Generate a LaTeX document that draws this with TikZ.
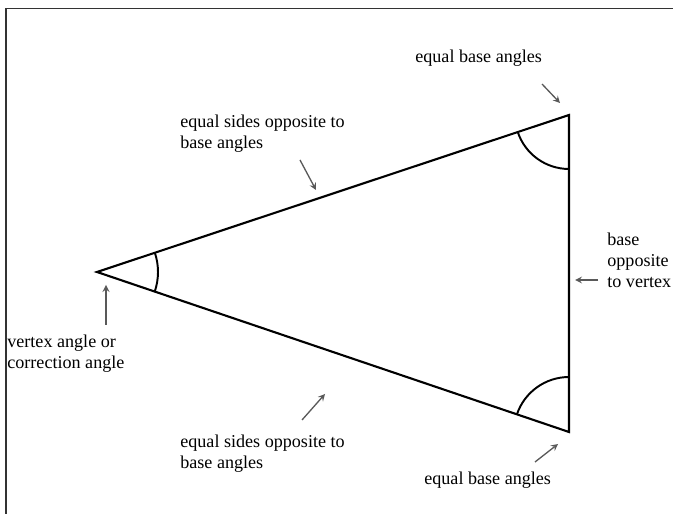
\documentclass[tikz,border=0pt]{standalone}
\usepackage{fontspec}
\setmainfont{Liberation Serif}
\usetikzlibrary{angles}

\begin{document}
\begin{tikzpicture}[>=stealth, x=0.02cm, y=0.02cm,
  lbl/.style={anchor=base west, inner sep=0pt, align=left, font=\fontsize{10.3}{12.2}\selectfont},
  pointer/.style={->, draw=black!65, line width=0.75pt},
  side/.style={line width=1.2pt, line join=miter}]
  \useasboundingbox (0,0) rectangle (673,514);
  % frame, only top and left edges show
  \draw[line width=1.1pt, black!80] (6,0) -- (6,505.5) -- (673,505.5);
  % triangle
  \coordinate (A) at (97,242);
  \coordinate (B) at (569,399);
  \coordinate (C) at (569,82);
  \draw[side] (A) -- (B) -- (C) -- cycle;
  \pic[draw, line width=1.1pt, angle radius=1.22cm] {angle=C--A--B};
  \pic[draw, line width=1.1pt, angle radius=1.08cm] {angle=A--B--C};
  \pic[draw, line width=1.1pt, angle radius=1.1cm] {angle=B--C--A};
  % labels (base = last line)
  \node[lbl] (topbase) at (415,451) {equal base angles};
  \node[lbl] (topside) at (180,365) {equal sides opposite to\\base angles};
  \node[lbl] (baseside) at (607,226) {base\\opposite\\to vertex};
  \node[lbl] (vertex) at (7,145) {vertex angle or\\correction angle};
  \node[lbl] (botside) at (180,45) {equal sides opposite to\\base angles};
  \node[lbl] (botbase) at (424,30) {equal base angles};
  % pointers
  \coordinate (t1) at (542,430); \coordinate (h1) at (560,411);
  \coordinate (t2) at (300,354); \coordinate (h2) at (316,324);
  \coordinate (t3) at (598,234); \coordinate (h3) at (575,234);
  \coordinate (t4) at (106,189); \coordinate (h4) at (106,229);
  \coordinate (t5) at (302,94);  \coordinate (h5) at (325,120);
  \coordinate (t6) at (535,52);  \coordinate (h6) at (558,70);
  \foreach \i in {1,...,6}
    \draw[pointer] (t\i) -- (h\i);
\end{tikzpicture}
\end{document}
